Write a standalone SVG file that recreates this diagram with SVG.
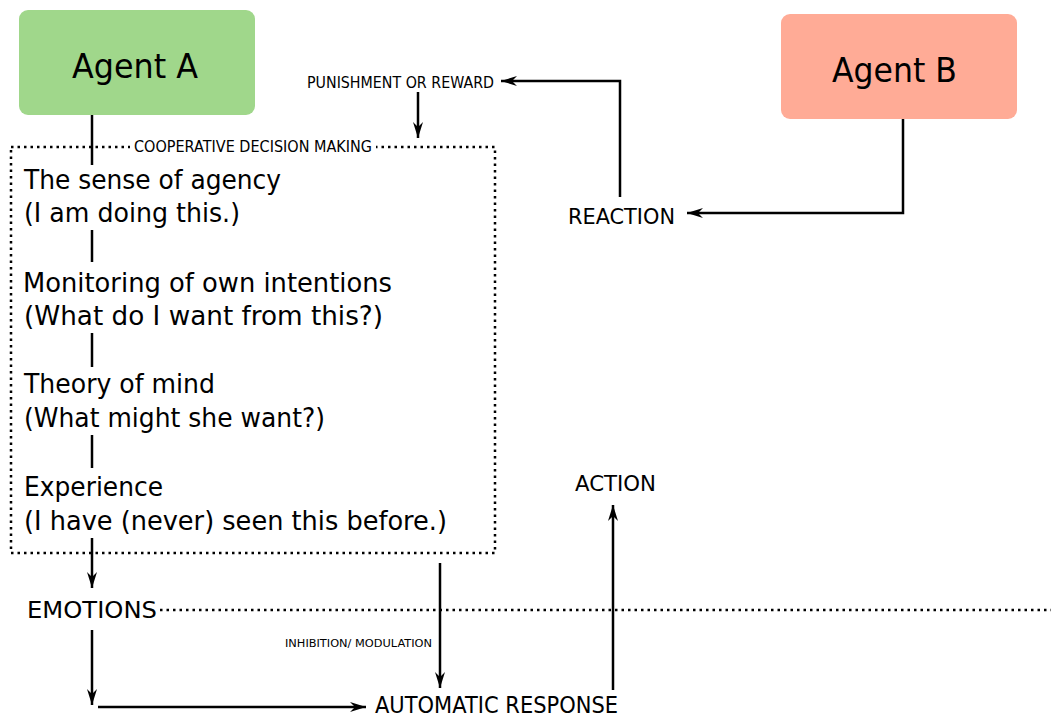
<svg xmlns="http://www.w3.org/2000/svg" width="1051" height="718" viewBox="0 0 1051 718">
<style>
text{font-family:"DejaVu Sans","Liberation Sans",Arial,sans-serif;fill:#000}
.body{font-size:26px}
.small{font-size:15px}
.line{stroke:#000;stroke-width:2.5;fill:none}
.dot{stroke:#000;stroke-width:2.5;fill:none;stroke-dasharray:2.5 4}
.arr{marker-end:url(#ah)}
</style>
<defs>
<marker id="ah" markerUnits="userSpaceOnUse" markerWidth="18" markerHeight="12" refX="16" refY="5" orient="auto" viewBox="0 0 18 10">
<path d="M0,0 L16,5 L0,10 L5,5 Z" fill="#000"/>
</marker>
</defs>
<rect width="1051" height="718" fill="#fff"/>
<g id="decision-box">
<rect x="11" y="147" width="484" height="406" class="dot"/>
<rect x="130" y="138" width="246" height="18" fill="#fff"/>
<text x="134" y="152" class="small" font-size="14.5" textLength="238" lengthAdjust="spacingAndGlyphs">COOPERATIVE DECISION MAKING</text>
</g>
<g id="connectors">
<line x1="92" y1="115" x2="92" y2="165" class="line"/>
<line x1="92" y1="230" x2="92" y2="262" class="line"/>
<line x1="92" y1="333" x2="92" y2="367" class="line"/>
<line x1="92" y1="435" x2="92" y2="468" class="line"/>
<line x1="92" y1="538" x2="92" y2="588" class="line arr"/>
<line x1="92" y1="630" x2="92" y2="705" class="line arr"/>
<line x1="98" y1="707" x2="366" y2="707" class="line arr"/>
<line x1="440" y1="563" x2="440" y2="688" class="line arr"/>
<line x1="613" y1="690" x2="613" y2="505" class="line arr"/>
<line x1="418" y1="92" x2="418" y2="138" class="line arr"/>
<path d="M620,197 V81 H501" class="line arr"/>
<path d="M903,119 V213 H687" class="line arr"/>
<line x1="160" y1="610" x2="1051" y2="610" class="dot"/>
</g>
<g id="agent-a">
<rect x="19" y="10" width="236" height="105" rx="9" fill="#a0d78b"/>
<text x="72" y="78" font-size="33" textLength="126" lengthAdjust="spacingAndGlyphs">Agent A</text>
</g>
<g id="agent-b">
<rect x="781" y="14" width="236" height="105" rx="9" fill="#ffab96"/>
<text x="832" y="82" font-size="33" textLength="125" lengthAdjust="spacingAndGlyphs">Agent B</text>
</g>
<g id="sense-of-agency">
<text x="24" y="189" class="body" textLength="257" lengthAdjust="spacingAndGlyphs">The sense of agency</text>
<text x="24" y="222" class="body" textLength="216" lengthAdjust="spacingAndGlyphs">(I am doing this.)</text>
</g>
<g id="monitoring">
<text x="23" y="292" class="body" textLength="369" lengthAdjust="spacingAndGlyphs">Monitoring of own intentions</text>
<text x="24" y="325" class="body" textLength="359" lengthAdjust="spacingAndGlyphs">(What do I want from this?)</text>
</g>
<g id="theory-of-mind">
<text x="24" y="393" class="body" textLength="191" lengthAdjust="spacingAndGlyphs">Theory of mind</text>
<text x="24" y="427" class="body" textLength="301" lengthAdjust="spacingAndGlyphs">(What might she want?)</text>
</g>
<g id="experience">
<text x="24" y="496" class="body" textLength="139" lengthAdjust="spacingAndGlyphs">Experience</text>
<text x="24" y="530" class="body" textLength="423" lengthAdjust="spacingAndGlyphs">(I have (never) seen this before.)</text>
</g>
<g id="punishment">
<text x="307" y="88" class="small" textLength="187" lengthAdjust="spacingAndGlyphs">PUNISHMENT OR REWARD</text>
</g>
<g id="reaction">
<text x="568" y="224" font-size="22" textLength="107" lengthAdjust="spacingAndGlyphs">REACTION</text>
</g>
<g id="action">
<text x="575" y="491" font-size="22" textLength="81" lengthAdjust="spacingAndGlyphs">ACTION</text>
</g>
<g id="emotions">
<text x="27" y="618" font-size="23" textLength="130" lengthAdjust="spacingAndGlyphs">EMOTIONS</text>
</g>
<g id="inhibition">
<text x="285" y="647" font-size="11" fill="#222" textLength="147" lengthAdjust="spacingAndGlyphs">INHIBITION/ MODULATION</text>
</g>
<g id="automatic-response">
<text x="375" y="713" font-size="23" textLength="243" lengthAdjust="spacingAndGlyphs">AUTOMATIC RESPONSE</text>
</g>
</svg>
